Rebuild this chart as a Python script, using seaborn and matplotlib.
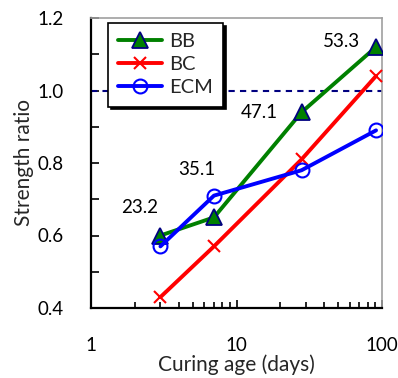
import matplotlib
matplotlib.use("Agg")
import matplotlib.pyplot as plt
from matplotlib.ticker import FixedLocator, NullFormatter, LogLocator
import seaborn as sns
import pandas as pd

sns.set_theme(style="ticks")
plt.rcParams["font.family"] = ["Lato", "DejaVu Sans"]

# Curing age (days) and strength ratio for each binder
ages = [3, 7, 28, 91]
bb = [0.60, 0.65, 0.94, 1.12]
bc = [0.43, 0.57, 0.81, 1.04]
ecm = [0.57, 0.71, 0.78, 0.89]
series_names = ["BB", "BC", "ECM"]
# Labels stated beside the BB points
bb_labels = ["23.2", "35.1", "47.1", "53.3"]

fig = plt.figure(figsize=(3.98, 3.78), dpi=100)
ax = fig.add_axes([91 / 398, 1 - 308 / 378, 291 / 398, 290 / 378])

ax.axhline(1.0, color="#000080", lw=1.5, ls=(0, (3, 2.5)), zorder=1)

styles = {
    "BB": dict(color="#008000", marker="^", markersize=12, markerfacecolor="#008000",
               markeredgecolor="#000080", markeredgewidth=1.3),
    "BC": dict(color="#ff0000", marker="x", markersize=9, markeredgecolor="#ff0000",
               markeredgewidth=1.5),
    "ECM": dict(color="#0000ff", marker="o", markersize=10, markerfacecolor="none",
                markeredgecolor="#0000ff", markeredgewidth=1.5),
}
for name, vals in zip(series_names, [bb, bc, ecm]):
    sdf = pd.DataFrame({"age": ages, "ratio": vals})
    sns.lineplot(data=sdf, x="age", y="ratio", ax=ax, lw=2.8, label=name,
                 zorder=3, **styles[name])

# value labels beside the BB points (offsets in pixels)
offsets = [(-21, 28), (-17, 48), (-42, 0), (-35, 5)]
for a, v, t, (dx, dy) in zip(ages, bb, bb_labels, offsets):
    ax.annotate(t, (a, v), xytext=(dx * 0.72, dy * 0.72), textcoords="offset points",
                fontsize=13.5, ha="center", va="center", color="black")

ax.set_xscale("log")
ax.set_xlim(1, 100)
ax.set_ylim(0.4, 1.2)
ax.set_xticks([1, 10, 100])
ax.set_xticklabels(["1", "10", "100"])
ax.xaxis.set_minor_locator(LogLocator(base=10, subs=range(2, 10)))
ax.xaxis.set_minor_formatter(NullFormatter())
ax.set_yticks([0.4, 0.6, 0.8, 1.0, 1.2])
ax.set_yticklabels(["0.4", "0.6", "0.8", "1.0", "1.2"])
ax.yaxis.set_minor_locator(FixedLocator([0.5, 0.7, 0.9, 1.1]))

ax.tick_params(axis="both", which="both", direction="in", colors="black",
               labelsize=13.5)
ax.tick_params(axis="y", which="both", left=True, right=False, length=6, width=1.2,
               pad=20)
ax.tick_params(axis="x", which="major", bottom=True, top=False, length=6, width=1.2,
               pad=21)
ax.tick_params(axis="x", which="minor", bottom=True, top=False, length=4, width=1.2)

for side in ("left", "bottom"):
    ax.spines[side].set_color("black")
    ax.spines[side].set_linewidth(1.6)
for side in ("top", "right"):
    ax.spines[side].set_visible(True)
    ax.spines[side].set_color("#a0a0a0")
    ax.spines[side].set_linewidth(1.2)

ax.set_xlabel("Curing age (days)", fontsize=15, labelpad=0)
ax.set_ylabel("Strength ratio", fontsize=15, labelpad=2)

# legend with a drop shadow
leg = ax.legend(loc="upper left", bbox_to_anchor=(17 / 291, 1 - 5 / 290),
                fontsize=14.5, frameon=True, fancybox=False,
                shadow={"color": "black", "alpha": 1},
                borderpad=0.5, labelspacing=0.3, handlelength=2.2,
                handletextpad=0.35, borderaxespad=0)
leg.get_frame().set_edgecolor("black")
leg.get_frame().set_linewidth(1.2)
leg.get_frame().set_alpha(1)

fig.savefig("out.png", dpi=100)
